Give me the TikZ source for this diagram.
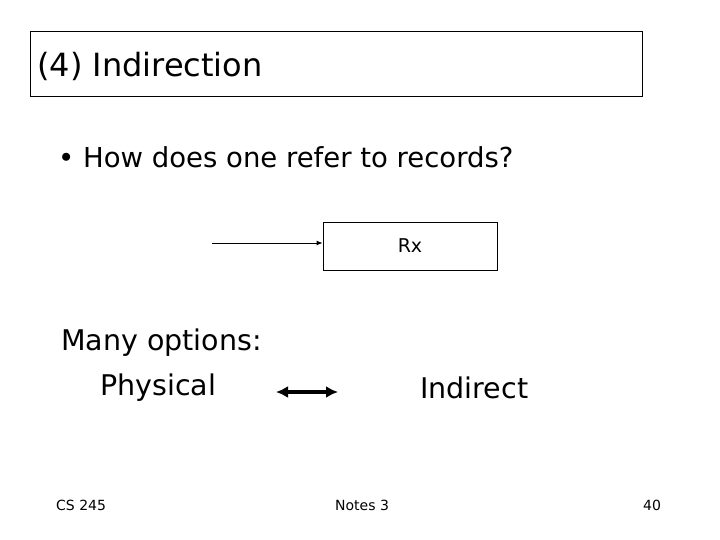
\documentclass[tikz,border=0pt]{standalone}
\usepackage{fontspec}
\setmainfont{DejaVu Sans}
\usetikzlibrary{arrows.meta}
\begin{document}
\begin{tikzpicture}[x=1pt,y=-1pt,
  txt/.style={inner sep=0pt,anchor=west,font=\fontsize{#1}{#1}\selectfont},
  box/.style={draw,line width=0.8pt,inner sep=0pt}]
\useasboundingbox (0,0) rectangle (720,540);
\node[box,minimum width=612pt,minimum height=65pt] (title) at (336,63.5) {};
\node[txt=32] (t) at (37,66) {(4) Indirection};
\node[txt=27.5] (b) at (58,157) {• How does one refer to records?};
\node[box,minimum width=174pt,minimum height=48pt,font=\fontsize{19}{19}\selectfont] (rx) at (410,246) {Rx};
\coordinate (s) at (212,243);
\draw[-{Latex[length=6pt,width=5pt]},line width=1pt] (s) -- (s -| rx.west);
\node[txt=28.5] (m) at (61,343) {Many options:};
\node[txt=28.5] (p) at (100,388) {Physical};
\node[txt=28.5] (i) at (420,388) {Indirect};
\coordinate (a1) at (276,392);
\coordinate (a2) at (338,392);
\draw[{Latex[length=12pt,width=12pt]}-{Latex[length=12pt,width=12pt]},line width=4pt] (a1) -- (a2);
\node[txt=14] (f1) at (56,505) {CS 245};
\node[txt=14] (f2) at (335,505) {Notes 3};
\node[txt=14] (f3) at (643,505) {40};
\end{tikzpicture}
\end{document}
